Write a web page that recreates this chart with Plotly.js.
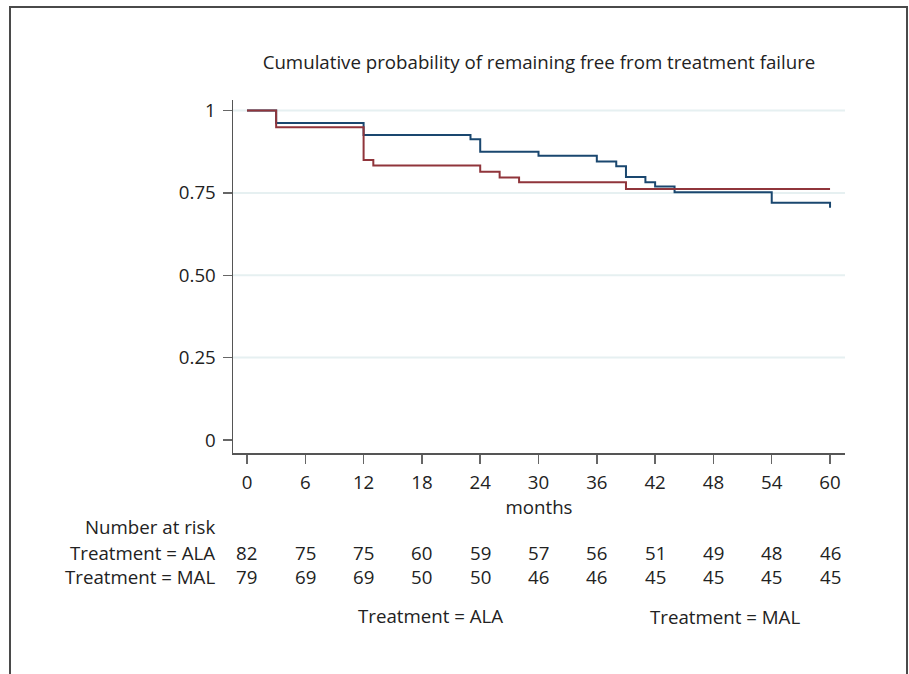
<!DOCTYPE html>
<html>
<head>
<meta charset="utf-8">
<script src="https://cdn.plot.ly/plotly-3.0.1.min.js"></script>
<style>
  html, body { margin: 0; padding: 0; background: #fff; }
  #wrap { position: relative; width: 909px; height: 674px; overflow: hidden; }
  #chart { position: absolute; left: 0; top: 0; width: 909px; height: 674px; }
  #frame { position: absolute; left: 9px; top: 6px; width: 895px; height: 700px;
           border: 2px solid #4a4a4a; pointer-events: none; }
</style>
</head>
<body>
<div id="wrap">
  <div id="chart"></div>
  <div id="frame"></div>
</div>
<script>
// ---- data ----
const chartTitle = "Cumulative probability of remaining free from treatment failure";
const xTitle = "months";
const groupNames = ["Treatment = ALA", "Treatment = MAL"];

const alaTime = [0, 3, 12, 23, 24, 30, 36, 38, 39, 41, 42, 44, 54, 60];
const alaSurv = [1, 0.962, 0.926, 0.913, 0.875, 0.863, 0.845, 0.831, 0.798, 0.782, 0.769, 0.752, 0.720, 0.705];

const malTime = [0, 3, 12, 13, 24, 26, 28, 39, 60];
const malSurv = [1, 0.949, 0.850, 0.833, 0.814, 0.797, 0.782, 0.762, 0.762];

const xTicks = [0, 6, 12, 18, 24, 30, 36, 42, 48, 54, 60];
const yTicks = [0, 0.25, 0.5, 0.75, 1];
const yTickLabels = ["0", "0.25", "0.50", "0.75", "1"];
const yGrid = [0.25, 0.5, 0.75, 1];

const riskHeader = "Number at risk";
const riskALA = [82, 75, 75, 60, 59, 57, 56, 51, 49, 48, 46];
const riskMAL = [79, 69, 69, 50, 50, 46, 46, 45, 45, 45, 45];

// ---- styles ----
const FONT = "Open Sans, Noto Sans, sans-serif";
const TXT = "#222222";
const FS = 18.7;
const colors = ["#1a476f", "#90353b"];

const traces = [
  { x: alaTime, y: alaSurv, name: groupNames[0], mode: "lines",
    line: { shape: "hv", color: colors[0], width: 2 }, showlegend: false },
  { x: malTime, y: malSurv, name: groupNames[1], mode: "lines",
    line: { shape: "hv", color: colors[1], width: 2 }, showlegend: false }
];

// plot area pixel geometry: top 100, bottom 453 => height 353
const plotTop = 100, plotBottom = 453, plotH = plotBottom - plotTop;
const py = (p) => (plotBottom - p) / plotH;

const annotations = [];
const txtFont = { family: FONT, size: FS, color: TXT };
annotations.push({ xref: "paper", yref: "paper", x: -0.026, y: py(526), xanchor: "right", yanchor: "middle",
  text: riskHeader, showarrow: false, font: txtFont });
annotations.push({ xref: "paper", yref: "paper", x: -0.026, y: py(552), xanchor: "right", yanchor: "middle",
  text: groupNames[0], showarrow: false, font: txtFont });
annotations.push({ xref: "paper", yref: "paper", x: -0.026, y: py(576.5), xanchor: "right", yanchor: "middle",
  text: groupNames[1], showarrow: false, font: txtFont });
xTicks.forEach((t, i) => {
  annotations.push({ xref: "x", yref: "paper", x: t, y: py(552), xanchor: "center", yanchor: "middle",
    text: String(riskALA[i]), showarrow: false, font: txtFont });
  annotations.push({ xref: "x", yref: "paper", x: t, y: py(576.5), xanchor: "center", yanchor: "middle",
    text: String(riskMAL[i]), showarrow: false, font: txtFont });
});
// legend (text only, as in reference)
annotations.push({ xref: "paper", yref: "paper", x: 0.322, y: py(615.5), xanchor: "center", yanchor: "middle",
  text: groupNames[0], showarrow: false, font: txtFont });
annotations.push({ xref: "paper", yref: "paper", x: 0.804, y: py(616.5), xanchor: "center", yanchor: "middle",
  text: groupNames[1], showarrow: false, font: txtFont });

const shapes = yGrid.map(v => ({
  type: "line", xref: "paper", yref: "y", x0: 0, x1: 1, y0: v, y1: v,
  line: { color: "#e6f0f1", width: 2 }, layer: "below"
}));

const layout = {
  width: 909, height: 674,
  margin: { l: 233, r: 64, t: plotTop, b: 674 - plotBottom, pad: 0 },
  paper_bgcolor: "#ffffff", plot_bgcolor: "#ffffff",
  font: { family: FONT, size: FS, color: TXT },
  title: { text: chartTitle, x: 0.5, xref: "paper", xanchor: "center", y: 1 - 62 / 674, yanchor: "middle",
           font: { family: FONT, size: FS, color: TXT } },
  xaxis: {
    range: [-1.44, 61.54], tickvals: xTicks, ticktext: xTicks.map(String),
    showgrid: false, zeroline: false, showline: true, linecolor: "#555", linewidth: 1.5,
    ticks: "outside", ticklen: 9, tickwidth: 1.5, tickcolor: "#666",
    ticklabelstandoff: 3,
    tickfont: { family: FONT, size: FS, color: TXT },
    title: { text: xTitle, standoff: 5, font: { family: FONT, size: FS, color: TXT } }
  },
  yaxis: {
    range: [-0.0395, 1.0319], tickvals: yTicks, ticktext: yTickLabels,
    showgrid: false, zeroline: false, showline: true, linecolor: "#555", linewidth: 1.5,
    ticks: "outside", ticklen: 9, tickwidth: 1.5, tickcolor: "#666",
    ticklabelstandoff: 3,
    tickfont: { family: FONT, size: FS, color: TXT }
  },
  shapes: shapes,
  annotations: annotations,
  showlegend: false
};

Plotly.newPlot("chart", traces, layout, { displayModeBar: false, staticPlot: true });
</script>
</body>
</html>
